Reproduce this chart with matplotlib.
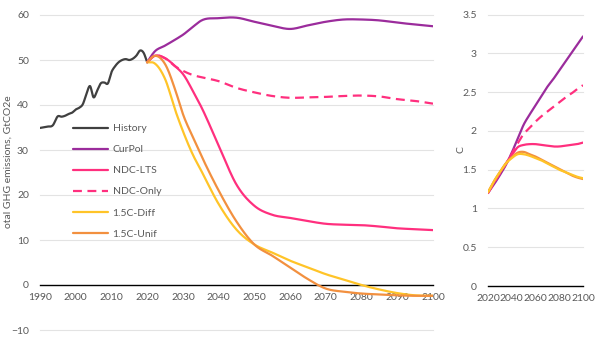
import matplotlib
matplotlib.use("Agg")
import matplotlib.pyplot as plt
import numpy as np

# ---------------- data ----------------
hist_years = [1990, 1992, 1993.6, 1995, 1996, 1997, 1998, 1999, 2000, 2001, 2002, 2003,
              2004, 2005, 2006, 2007, 2008, 2009, 2010, 2011, 2012, 2013, 2014, 2015,
              2016, 2017, 2018, 2019, 2020]
hist_vals = [34.9, 35.2, 35.5, 37.5, 37.4, 37.6, 38.0, 38.3, 39.0, 39.4, 40.2, 42.5,
             44.2, 41.7, 43.2, 44.8, 45.0, 44.8, 47.3, 48.6, 49.5, 50.0, 50.2, 50.0,
             50.3, 51.0, 52.1, 51.6, 49.5]

scen_years = [2020, 2022, 2025, 2028, 2030, 2033, 2035, 2040, 2045, 2050, 2055, 2060,
              2065, 2070, 2075, 2080, 2085, 2090, 2095, 2100]
curpol = [49.5, 51.8, 53.2, 54.6, 55.6, 57.5, 58.7, 59.3, 59.4, 58.5, 57.6, 56.9,
          57.7, 58.5, 59.0, 59.0, 58.8, 58.3, 57.9, 57.5]
ndc_lts = [49.5, 50.9, 50.4, 48.5, 46.9, 42.8, 39.8, 31.0, 22.3, 17.6, 15.6, 14.9,
           14.2, 13.6, 13.4, 13.3, 13.0, 12.6, 12.4, 12.2]
ndc_only = [49.5, 50.9, 50.4, 48.5, 47.6, 46.6, 46.2, 45.3, 43.8, 42.8, 42.0, 41.6,
            41.7, 41.8, 42.0, 42.1, 41.9, 41.3, 40.9, 40.3]
c15_diff = [49.5, 49.3, 45.8, 38.5, 34.2, 28.6, 25.6, 18.0, 12.3, 9.0, 7.2, 5.4,
            3.9, 2.4, 1.2, 0.0, -1.0, -1.8, -2.3, -2.4]
c15_unif = [49.5, 50.9, 49.1, 43.0, 38.0, 32.5, 29.0, 21.0, 14.1, 9.0, 6.5, 3.9,
            1.3, -0.8, -1.5, -1.9, -2.1, -2.3, -2.4, -2.4]

temp_years = [2020, 2025, 2030, 2035, 2040, 2045, 2050, 2055, 2060, 2065, 2070, 2075,
              2080, 2085, 2090, 2095, 2100]
t_curpol = [1.20, 1.31, 1.43, 1.56, 1.72, 1.90, 2.08, 2.21, 2.33, 2.45, 2.57, 2.67,
            2.78, 2.89, 3.00, 3.11, 3.22]
t_ndc_lts = [1.20, 1.34, 1.46, 1.58, 1.69, 1.79, 1.82, 1.83, 1.83, 1.82, 1.81, 1.80,
             1.80, 1.81, 1.82, 1.83, 1.85]
t_ndc_only = [1.20, 1.33, 1.45, 1.57, 1.71, 1.84, 1.96, 2.04, 2.12, 2.19, 2.25, 2.31,
              2.37, 2.43, 2.48, 2.54, 2.59]
t_c15_diff = [1.21, 1.35, 1.47, 1.58, 1.65, 1.70, 1.70, 1.68, 1.65, 1.62, 1.58, 1.54,
              1.50, 1.47, 1.44, 1.41, 1.39]
t_c15_unif = [1.21, 1.35, 1.47, 1.58, 1.66, 1.72, 1.73, 1.70, 1.67, 1.63, 1.59, 1.55,
              1.51, 1.47, 1.43, 1.40, 1.38]

series_names = ["History", "CurPol", "NDC-LTS", "NDC-Only", "1.5C-Diff", "1.5C-Unif"]
colors = {"History": "#404040", "CurPol": "#9B2C9C", "NDC-LTS": "#FF2F7E",
          "NDC-Only": "#FF2F7E", "1.5C-Diff": "#FFC428", "1.5C-Unif": "#F2903F"}

left_yticks = [-10, 0, 10, 20, 30, 40, 50, 60]
left_xticks = list(range(1990, 2101, 10))
right_yticks = [0, 0.5, 1, 1.5, 2, 2.5, 3, 3.5]
right_ytick_labels = ["0", "0.5", "1", "1.5", "2", "2.5", "3", "3.5"]
right_xticks = [2020, 2040, 2060, 2080, 2100]


def smooth(x, y, n=16):
    """Cubic Hermite rendering of the line (like a spreadsheet 'smoothed line')."""
    x = np.asarray(x, float); y = np.asarray(y, float)
    h = np.diff(x); d = np.diff(y) / h
    m = np.empty_like(y)
    m[0] = d[0]; m[-1] = d[-1]
    for i in range(1, len(x) - 1):
        m[i] = (d[i - 1] * h[i] + d[i] * h[i - 1]) / (h[i - 1] + h[i])
    xs, ys = [], []
    for i in range(len(x) - 1):
        t = np.linspace(0, 1, n, endpoint=False)
        h00 = 2 * t**3 - 3 * t**2 + 1
        h10 = t**3 - 2 * t**2 + t
        h01 = -2 * t**3 + 3 * t**2
        h11 = t**3 - t**2
        xs.append(x[i] + t * h[i])
        ys.append(h00 * y[i] + h10 * h[i] * m[i] + h01 * y[i + 1] + h11 * h[i] * m[i + 1])
    xs.append([x[-1]]); ys.append([y[-1]])
    return np.concatenate(xs), np.concatenate(ys)


plt.rcParams['font.family'] = ['Lato', 'DejaVu Sans']
W, H = 603, 341
fig = plt.figure(figsize=(W / 100, H / 100), dpi=100)
fig.patch.set_facecolor("white")

grid_c = "#E3E3E3"
txt_c = "#595959"
fs = 7.5
lw = 1.6

# ---------- left panel ----------
ax = fig.add_axes([40 / W, 1 - 330 / H, 393 / W, 315 / H])
ax.set_xlim(1990, 2100)
ax.set_ylim(-10, 60)
for v in left_yticks:
    if v != 0:
        ax.axhline(v, color=grid_c, lw=0.8, zorder=0, clip_on=False)
for s in ["top", "right", "left"]:
    ax.spines[s].set_visible(False)
ax.spines["bottom"].set_position(("data", 0))
ax.spines["bottom"].set_color("black")
ax.spines["bottom"].set_linewidth(1.0)
ax.set_yticks(left_yticks)
ax.set_xticks(left_xticks)
ax.tick_params(axis="both", length=0, labelsize=fs, colors=txt_c)
ax.tick_params(axis="y", pad=8)
ax.tick_params(axis="x", pad=6)

data_left = {
    "History": (hist_years, hist_vals),
    "CurPol": (scen_years, curpol),
    "NDC-LTS": (scen_years, ndc_lts),
    "NDC-Only": (scen_years, ndc_only),
    "1.5C-Diff": (scen_years, c15_diff),
    "1.5C-Unif": (scen_years, c15_unif),
}
handles = []
for name in series_names:
    xx, yy = data_left[name]
    sx, sy = smooth(xx, yy)
    ls = (0, (4, 2.5)) if name == "NDC-Only" else "-"
    h, = ax.plot(sx, sy, color=colors[name], lw=lw, ls=ls, label=name,
                 solid_capstyle="round", zorder=3)
    handles.append(h)

leg = ax.legend(handles=handles, loc="upper left",
                bbox_to_anchor=(73 / W, 1 - 124 / H), bbox_transform=fig.transFigure,
                frameon=False, fontsize=fs, labelspacing=1.13, handlelength=3.4,
                handletextpad=0.4, borderaxespad=0, borderpad=0)
for t in leg.get_texts():
    t.set_color(txt_c)

fig.text(8 / W, 1 - 162 / H, "otal GHG emissions, GtCO2e", rotation=90,
         ha="center", va="center", fontsize=fs, color=txt_c)

# ---------- right panel ----------
ax2 = fig.add_axes([488 / W, 1 - 286 / H, 95 / W, 271.3 / H])
ax2.set_xlim(2020, 2100)
ax2.set_ylim(0, 3.5)
for v in right_yticks:
    if v != 0:
        ax2.axhline(v, color=grid_c, lw=0.8, zorder=0, clip_on=False)
for s in ["top", "right", "left"]:
    ax2.spines[s].set_visible(False)
ax2.spines["bottom"].set_color("black")
ax2.spines["bottom"].set_linewidth(1.0)
ax2.set_yticks(right_yticks)
ax2.set_yticklabels(right_ytick_labels)
ax2.set_xticks(right_xticks)
ax2.tick_params(axis="both", length=0, labelsize=fs, colors=txt_c)
ax2.tick_params(axis="y", pad=8)
ax2.tick_params(axis="x", pad=6)

data_right = {
    "CurPol": t_curpol, "NDC-LTS": t_ndc_lts, "NDC-Only": t_ndc_only,
    "1.5C-Diff": t_c15_diff, "1.5C-Unif": t_c15_unif,
}
for name in ["CurPol", "NDC-Only", "NDC-LTS", "1.5C-Unif", "1.5C-Diff"]:
    sx, sy = smooth(temp_years, data_right[name])
    ls = (0, (4, 2.5)) if name == "NDC-Only" else "-"
    ax2.plot(sx, sy, color=colors[name], lw=lw, ls=ls, solid_capstyle="round", zorder=3)

fig.text(461 / W, 1 - 150 / H, "C", rotation=90, ha="center", va="center",
         fontsize=fs, color=txt_c)

fig.savefig("out.png", dpi=100)
